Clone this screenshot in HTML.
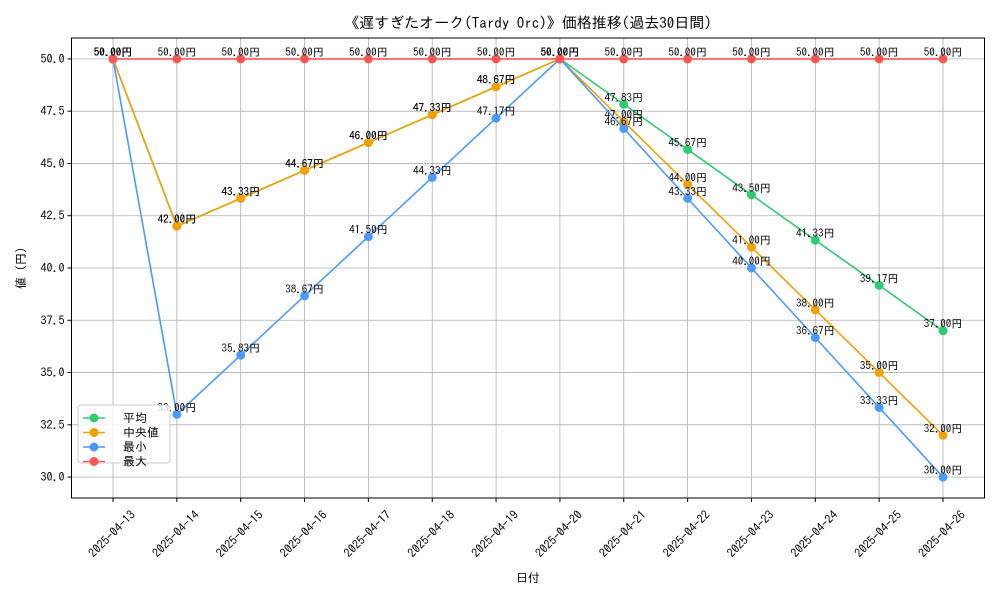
<!DOCTYPE html>
<html><head><meta charset="utf-8"><style>
body{margin:0;background:#fff;}
svg text{font-family:"IPAGothic","Liberation Sans",sans-serif;}
</style></head><body>
<svg id="chart" width="1000" height="600" xmlns="http://www.w3.org/2000/svg"></svg>
<script>
const dates=["2025-04-13","2025-04-14","2025-04-15","2025-04-16","2025-04-17","2025-04-18","2025-04-19","2025-04-20","2025-04-21","2025-04-22","2025-04-23","2025-04-24","2025-04-25","2025-04-26"];
const avgVals=[50,42,43.33,44.67,46,47.33,48.67,50,47.83,45.67,43.5,41.33,39.17,37];
const medVals=[50,42,43.33,44.67,46,47.33,48.67,50,47,44,41,38,35,32];
const minVals=[50,33,35.83,38.67,41.5,44.33,47.17,50,46.67,43.33,40,36.67,33.33,30];
const maxVals=[50,50,50,50,50,50,50,50,50,50,50,50,50,50];
const yTicks=[30,32.5,35,37.5,40,42.5,45,47.5,50];
const NS="http://www.w3.org/2000/svg";
const svg=document.getElementById('chart');
const L=71.5,R=984.5,T=38,B=498;
const xs=i=>L+(i+0.65)/14.3*(R-L);
const ys=v=>B-(v-29)/22*(B-T);
function mk(tag,attrs,parent){const e=document.createElementNS(NS,tag);for(const k in attrs)e.setAttribute(k,attrs[k]);(parent||svg).appendChild(e);return e;}
const title=mk('text',{x:528,y:28,'text-anchor':'middle','font-size':15});
title.textContent='《遅すぎたオーク(Tardy Orc)》価格推移(過去30日間)';


dates.forEach((d,i)=>{
  const x=xs(i);
  const g=mk('line',{x1:x,x2:x,y1:T,y2:B,stroke:'#b0b0b0','stroke-width':0.8});
  
  
  mk('line',{x1:x,x2:x,y1:B,y2:B+4,stroke:'#000'});
  const t=mk('text',{x:0,y:4,'font-size':12,'text-anchor':'middle',transform:`translate(${x-1},${B+36}) rotate(-45)`});
  t.textContent=d;
  
  
});
yTicks.forEach(v=>{
  const y=ys(v);
  const g=mk('line',{x1:L,x2:R,y1:y,y2:y,stroke:'#b0b0b0','stroke-width':0.8});
  
  
  mk('line',{x1:L-4,x2:L,y1:y,y2:y,stroke:'#000'});
  const t=mk('text',{x:L-7,y:y+4,'font-size':12,'text-anchor':'end'});
  t.textContent=v.toFixed(1);
  
  
});
const frame=mk('rect',{x:L,y:T,width:R-L,height:B-T,fill:'none',stroke:'#000','stroke-width':1});


const xl=mk('text',{x:528,y:582,'font-size':12,'text-anchor':'middle'});xl.textContent='日付';


const yl=mk('text',{x:0,y:0,'font-size':12,'text-anchor':'middle',transform:'translate(25,268) rotate(-90)'});yl.textContent='値 (円)';


const series=[["平均",avgVals,"#2ecc71","avg"],["中央値",medVals,"#f5a000","median"],["最小",minVals,"#4a9bff","min"],["最大",maxVals,"#ff5555","max"]];
series.forEach(([name,vals,c,key])=>{
  const p=mk('polyline',{points:vals.map((v,i)=>xs(i)+','+ys(v)).join(' '),fill:'none',stroke:c,'stroke-width':1.6});
  
  
  vals.forEach((v,i)=>{
    const m=mk('circle',{cx:xs(i),cy:ys(v),r:4.5,fill:c});
    
    
    const t=mk('text',{x:xs(i),y:ys(v)-3,'font-size':11,'text-anchor':'middle',fill:'#000'});
    t.textContent=v.toFixed(2)+'円';
    
    
  });
});
const lg=mk('g',{});


mk('rect',{x:78,y:405,width:92,height:58,rx:3,fill:'#fff','fill-opacity':0.8,stroke:'#ccc'},lg);
series.forEach(([name,vals,c,key],k)=>{
  const y=418+k*14.5;
  const e=mk('g',{},lg);
  
  
  mk('line',{x1:83,x2:105,y1:y,y2:y,stroke:c,'stroke-width':1.6},e);
  mk('circle',{cx:94,cy:y,r:4.5,fill:c},e);
  const t=mk('text',{x:123,y:y+4,'font-size':12},e);t.textContent=name;
});
</script>
</body></html>
